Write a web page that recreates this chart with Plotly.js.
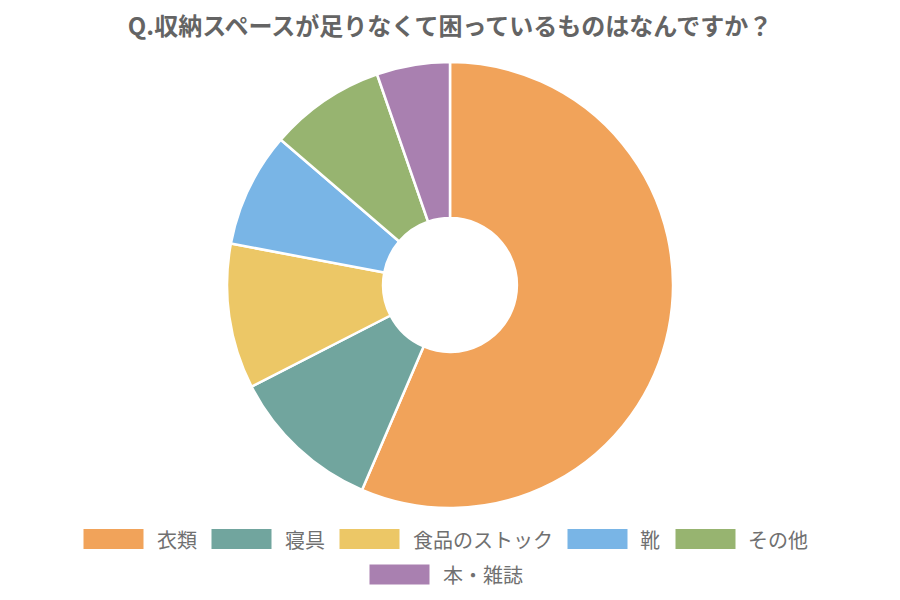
<!DOCTYPE html>
<html><head><meta charset="utf-8">
<script src="https://cdn.plot.ly/plotly-3.0.1.min.js"></script>
<style>body{margin:0}</style>
</head><body>
<div id="chart" style="width:900px;height:600px"></div>
<script>
const categories = ["衣類", "寝具", "食品のストック", "靴", "その他", "本・雑誌"];
const values = [56.4, 11.0, 10.5, 8.3, 8.4, 5.3];
const colors = ["#F1A35A", "#71A59E", "#ECC766", "#79B5E6", "#97B470", "#A980B0"];

const W = 900, H = 600;
const FONT = "Noto Sans CJK JP, sans-serif";
const LEG_SIZE = 20;

const trace = {
  type: "pie",
  labels: categories,
  values: values,
  sort: false,
  direction: "clockwise",
  rotation: 0,
  hole: 0.30,
  textinfo: "none",
  hoverinfo: "label+percent",
  marker: {colors: colors, line: {color: "#ffffff", width: 2.5}},
  domain: {x: [0, 1], y: [1 - 508/H, 1 - 62/H]},
  showlegend: false
};

// Custom legend (wide colour keys, centred wrapping rows)
const canvas = document.createElement("canvas");
const ctx = canvas.getContext("2d");
ctx.font = LEG_SIZE + "px 'Noto Sans CJK JP'";
const symW = 60, symH = 20, symGap = 11, itemGap = 17, maxRow = 860;
const items = categories.map(function(c, i){
  const tw = ctx.measureText(c).width || c.length * LEG_SIZE;
  return {label: c, color: colors[i], tw: tw, w: symW + symGap + tw};
});
const rows = [];
let cur = [], curW = 0;
items.forEach(function(it){
  const add = (cur.length ? itemGap : 0) + it.w;
  if (cur.length && curW + add > maxRow) { rows.push({items: cur, w: curW}); cur = []; curW = 0; }
  curW += (cur.length ? itemGap : 0) + it.w;
  cur.push(it);
});
if (cur.length) rows.push({items: cur, w: curW});

const rowY = [539, 574.5];
const shapes = [], annotations = [];
rows.forEach(function(r, ri){
  let x = W / 2 - 5 - r.w / 2;
  const yc = rowY[ri] !== undefined ? rowY[ri] : rowY[0] + ri * 35.5;
  r.items.forEach(function(it){
    shapes.push({type: "rect", xref: "paper", yref: "paper",
      x0: x / W, x1: (x + symW) / W, y0: 1 - (yc + symH/2) / H, y1: 1 - (yc - symH/2) / H,
      fillcolor: it.color, line: {width: 0}});
    annotations.push({xref: "paper", yref: "paper", x: (x + symW + symGap) / W, y: 1 - yc / H,
      xanchor: "left", yanchor: "middle", showarrow: false, text: it.label,
      font: {size: LEG_SIZE, color: "#707070", family: FONT}});
    x += it.w + itemGap;
  });
});

const layout = {
  width: W, height: H,
  margin: {l: 0, r: 0, t: 0, b: 0},
  paper_bgcolor: "#ffffff",
  font: {family: FONT, color: "#595959"},
  title: {text: "<b>Q.収納スペースが足りなくて困っているものはなんですか？</b>",
          font: {size: 24, color: "#646464", family: FONT},
          x: 0.5, xanchor: "center", y: 1 - 27/H, yanchor: "middle"},
  showlegend: false,
  shapes: shapes,
  annotations: annotations
};

Plotly.newPlot("chart", [trace], layout, {displayModeBar: false});
</script>
</body></html>
